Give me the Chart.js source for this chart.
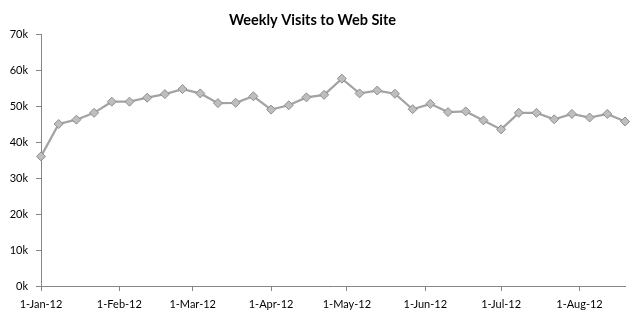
<!DOCTYPE html>
<html>
<head>
<meta charset="utf-8">
<script src="https://cdn.jsdelivr.net/npm/chart.js@4/dist/chart.umd.min.js"></script>
<style>
  html, body { margin: 0; padding: 0; background: #fff; }
  #wrap { width: 640px; height: 320px; position: relative; }
</style>
</head>
<body>
<div id="wrap"><canvas id="c" width="640" height="320"></canvas></div>
<script>
// ---- data ----
const weekDates = [
  '2012-01-01','2012-01-08','2012-01-15','2012-01-22','2012-01-29',
  '2012-02-05','2012-02-12','2012-02-19','2012-02-26',
  '2012-03-04','2012-03-11','2012-03-18','2012-03-25',
  '2012-04-01','2012-04-08','2012-04-15','2012-04-22','2012-04-29',
  '2012-05-06','2012-05-13','2012-05-20','2012-05-27',
  '2012-06-03','2012-06-10','2012-06-17','2012-06-24',
  '2012-07-01','2012-07-08','2012-07-15','2012-07-22','2012-07-29',
  '2012-08-05','2012-08-12','2012-08-19'
];
const visits = [
  36000, 45000, 46200, 48100, 51200,
  51200, 52300, 53300, 54700,
  53500, 50800, 50900, 52700,
  49000, 50200, 52400, 53100, 57600,
  53500, 54300, 53400, 49100,
  50600, 48300, 48500, 46000,
  43500, 48100, 48100, 46300, 47800,
  46800, 47800, 45700
];
const monthTickDates = ['2012-01-01','2012-02-01','2012-03-01','2012-04-01','2012-05-01','2012-06-01','2012-07-01','2012-08-01'];
const monthTickLabels = ['1-Jan-12','1-Feb-12','1-Mar-12','1-Apr-12','1-May-12','1-Jun-12','1-Jul-12','1-Aug-12'];
const yTickValues = [0, 10000, 20000, 30000, 40000, 50000, 60000, 70000];
const yTickLabels = ['0k','10k','20k','30k','40k','50k','60k','70k'];
const axisStartDate = '2012-01-01';
const axisEndDate = '2012-08-19';
const chartTitle = 'Weekly Visits to Web Site';

// ---- helpers ----
const DAY = 86400000;
function dayOffset(s) {
  const [y, m, d] = s.split('-').map(Number);
  const [y0, m0, d0] = axisStartDate.split('-').map(Number);
  return Math.round((Date.UTC(y, m - 1, d) - Date.UTC(y0, m0 - 1, d0)) / DAY);
}
const points = weekDates.map((d, i) => ({ x: dayOffset(d), y: visits[i] }));
const monthTicks = monthTickDates.map(dayOffset);

const axisColor = '#868686';
const fontFamily = 'Lato, "Open Sans", "Liberation Sans", sans-serif';

new Chart(document.getElementById('c'), {
  type: 'line',
  data: {
    datasets: [{
      data: points,
      clip: false,
      borderColor: '#A3A3A3',
      borderWidth: 2.25,
      tension: 0,
      pointStyle: 'rectRot',
      pointRadius: 4.5,
      pointHoverRadius: 4.5,
      pointBackgroundColor: '#BEBEBE',
      pointBorderColor: '#8E8E8E',
      pointBorderWidth: 1
    }]
  },
  options: {
    responsive: false,
    animation: false,
    events: [],
    layout: { padding: { left: 0, right: 15, top: 0, bottom: 0 } },
    plugins: {
      legend: { display: false },
      tooltip: { enabled: false },
      title: {
        display: true,
        text: chartTitle,
        color: '#000',
        font: { family: fontFamily, size: 14.5, weight: 'bold', lineHeight: 1.2 },
        padding: { top: 12, bottom: 4.6 }
      }
    },
    scales: {
      x: {
        type: 'linear',
        min: dayOffset(axisStartDate),
        max: dayOffset(axisEndDate),
        afterBuildTicks: (scale) => { scale.ticks = monthTicks.map(v => ({ value: v })); },
        afterFit: (scale) => { scale.height = 34; },
        grid: { display: true, drawOnChartArea: false, drawTicks: true, tickLength: 5, color: axisColor, lineWidth: 1 },
        border: { display: true, color: axisColor, width: 1 },
        ticks: {
          autoSkip: false,
          maxRotation: 0,
          padding: 7,
          color: '#000',
          font: { family: fontFamily, size: 11 },
          callback: (v) => { const i = monthTicks.indexOf(v); return i >= 0 ? monthTickLabels[i] : ''; }
        }
      },
      y: {
        min: 0,
        max: 70000,
        afterBuildTicks: (scale) => { scale.ticks = yTickValues.map(v => ({ value: v })); },
        afterFit: (scale) => { scale.width = 41; },
        grid: { display: true, drawOnChartArea: false, drawTicks: true, tickLength: 5, color: axisColor, lineWidth: 1 },
        border: { display: true, color: axisColor, width: 1 },
        ticks: {
          padding: 8,
          color: '#000',
          font: { family: fontFamily, size: 11 },
          callback: (v) => { const i = yTickValues.indexOf(v); return i >= 0 ? yTickLabels[i] : ''; }
        }
      }
    }
  }
});
</script>
</body>
</html>
